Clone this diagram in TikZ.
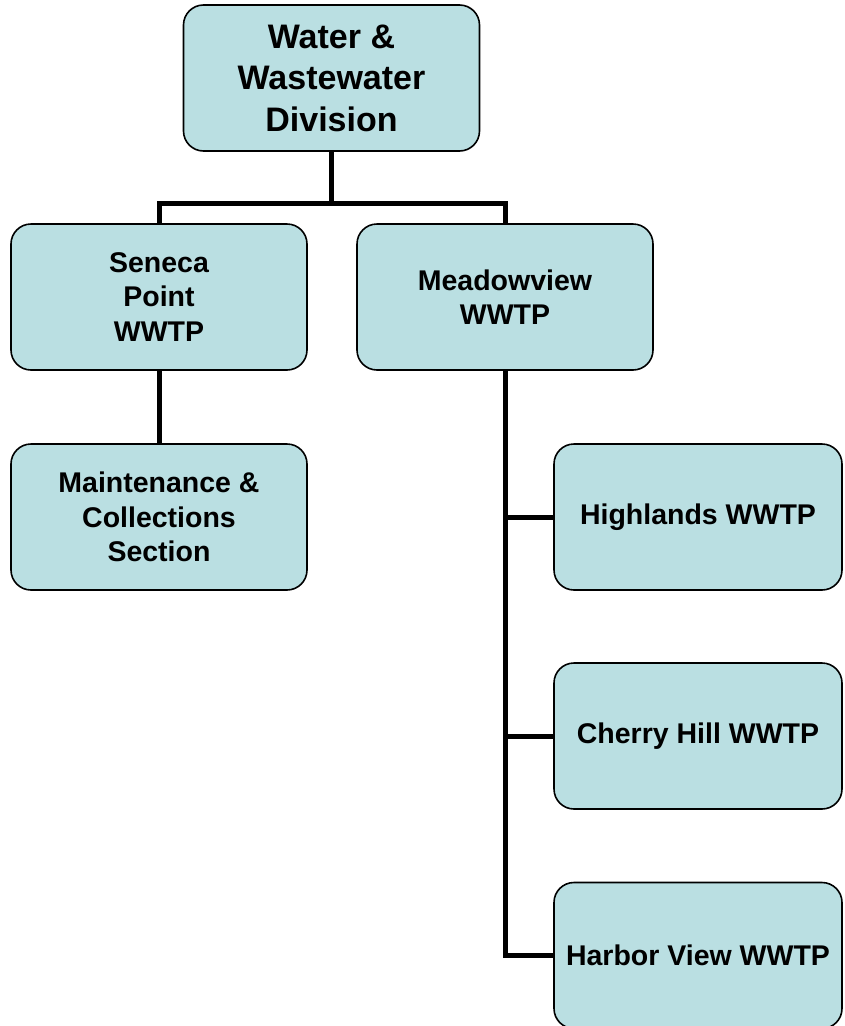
\documentclass[tikz,border=0pt]{standalone}
\usepackage{fontspec}
\setmainfont{Liberation Sans}
\definecolor{boxfill}{RGB}{186,223,226}
\begin{document}
\begin{tikzpicture}[x=1pt,y=-1pt,
  orgbox/.style={draw=black, line width=1.6pt, fill=boxfill, rounded corners=20pt,
    minimum width=296pt, minimum height=146pt, align=center, inner sep=0pt,
    font=\bfseries\fontsize{28.5}{34.5}\selectfont},
  topbox/.style={orgbox, font=\bfseries\fontsize{34}{41.5}\selectfont},
  link/.style={line width=5pt, black}]
\useasboundingbox (0,0) rectangle (844,1026);
\node[topbox] (top) at (331.5,78) {Water \&\\Wastewater\\Division};
\node[orgbox] (seneca) at (159,297) {Seneca\\Point\\WWTP};
\node[orgbox] (meadow) at (505,297) {Meadowview\\WWTP};
\node[orgbox] (maint) at (159,517) {Maintenance \&\\Collections\\Section};
\node[orgbox, minimum width=288pt] (high) at (698,517) {Highlands WWTP};
\node[orgbox, minimum width=288pt] (cherry) at (698,736) {Cherry Hill WWTP};
\node[orgbox, minimum width=288pt] (harbor) at (698,955.5) {Harbor View WWTP};
\coordinate (j) at (331.5,203);
\draw[link] (top.south) -- (j);
\draw[link] (seneca.north) |- (j) -| (meadow.north);
\draw[link] (seneca.south) -- (maint.north);
\draw[link] (meadow.south) |- (harbor.west);
\draw[link] (high.west) -- (high.west -| meadow.south);
\draw[link] (cherry.west) -- (cherry.west -| meadow.south);
\end{tikzpicture}
\end{document}
